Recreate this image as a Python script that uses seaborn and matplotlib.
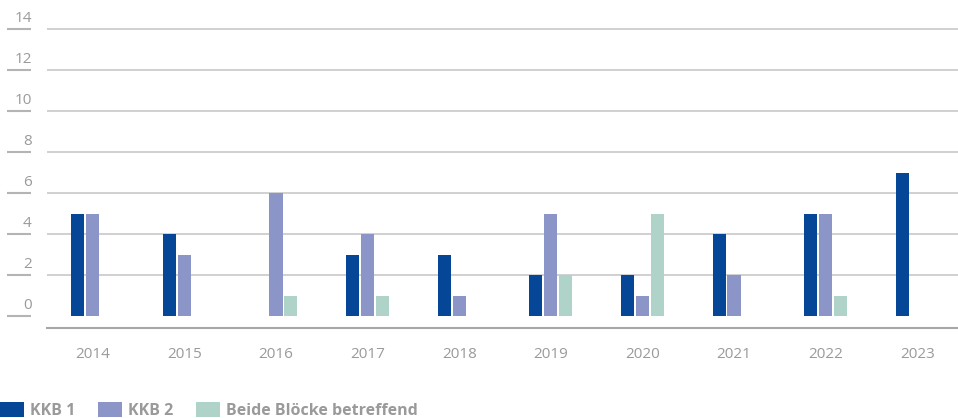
import numpy as np
import pandas as pd
import matplotlib
matplotlib.use("Agg")
import matplotlib.pyplot as plt
import matplotlib.transforms as mtrans
import seaborn as sns

years = ["2014", "2015", "2016", "2017", "2018", "2019", "2020", "2021", "2022", "2023"]
kkb1 = [5, 4, 0, 3, 3, 2, 2, 4, 5, 7]
kkb2 = [5, 3, 6, 4, 1, 5, 1, 2, 5, 0]
beide = [0, 0, 1, 1, 0, 2, 5, 0, 1, 0]
series = ["KKB 1", "KKB 2", "Beide Blöcke betreffend"]
colors = ["#054696", "#8b95c7", "#afd2c9"]
yticks = [0, 2, 4, 6, 8, 10, 12, 14]

df = pd.DataFrame({"Jahr": years * 3,
                   "Wert": kkb1 + kkb2 + beide,
                   "Serie": [series[0]] * 10 + [series[1]] * 10 + [series[2]] * 10})

sns.set_style("white")
plt.rcParams["font.family"] = ["Open Sans", "DejaVu Sans"]
grey = "#9a9a9a"

fig = plt.figure(figsize=(9.58, 4.18), dpi=100)
ax = fig.add_axes([47 / 958, 90 / 418, 916 / 958, 308 / 418])

sns.barplot(data=df, x="Jahr", y="Wert", hue="Serie", hue_order=series,
            palette=colors, saturation=1, width=0.49, gap=0.13, linewidth=0,
            ax=ax, legend=True)

ax.set_xlim(-0.5, 9.5)
ax.set_ylim(-0.585, 14.44)
ax.set_xlabel("")
ax.set_ylabel("")
for s in ["top", "right", "left"]:
    ax.spines[s].set_visible(False)
ax.spines["bottom"].set_color("#a8a8a8")
ax.spines["bottom"].set_linewidth(1.5)

ax.set_yticks(yticks, [str(v) for v in yticks])
ax.tick_params(axis="y", length=0, pad=11, labelsize=11, labelcolor=grey)
ax.tick_params(axis="x", length=0, pad=14, labelsize=11, labelcolor=grey)
ax.grid(axis="y", color="#c4c4c4", linewidth=1.1)
ax.set_axisbelow(True)
ax.yaxis.get_gridlines()[0].set_visible(False)
shift = mtrans.ScaledTranslation(0, 0.13, fig.dpi_scale_trans)
for lab in ax.get_yticklabels():
    lab.set_transform(lab.get_transform() + shift)

ax.hlines(yticks, -0.0437, -0.0175, transform=ax.get_yaxis_transform(),
          color="#b4b4b4", linewidth=1.5, clip_on=False)

handles, labels = ax.get_legend_handles_labels()
ax.get_legend().remove()
leg = fig.legend(handles, labels, loc="lower left", bbox_to_anchor=(0, -0.002),
                 ncol=3, frameon=False, borderpad=0, borderaxespad=0,
                 handlelength=1.5, handleheight=1.06, handletextpad=0.4,
                 columnspacing=1.4, prop={"weight": "bold", "size": 11.5})
for t in leg.get_texts():
    t.set_color(grey)

fig.savefig("out.png", dpi=100)
